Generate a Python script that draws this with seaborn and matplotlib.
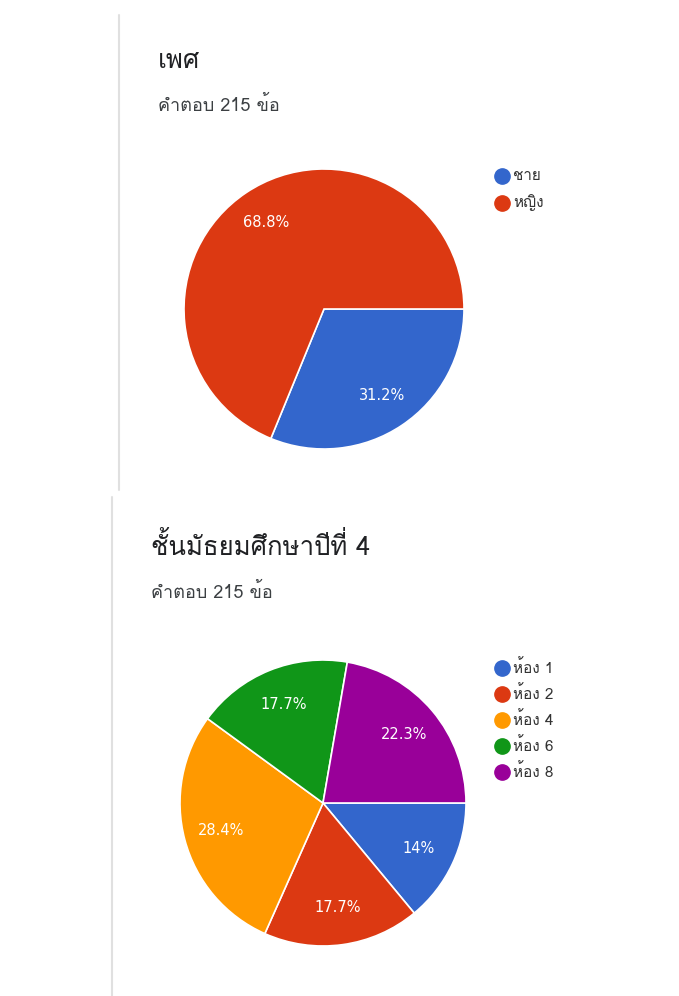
import matplotlib
matplotlib.use('Agg')
import matplotlib.pyplot as plt
from matplotlib import font_manager
from matplotlib.lines import Line2D
import seaborn as sns

# data
gender_labels = ['ชาย', 'หญิง']
gender_values = [31.2, 68.8]
room_labels = ['ห้อง 1', 'ห้อง 2', 'ห้อง 4', 'ห้อง 6', 'ห้อง 8']
room_values = [14.0, 17.7, 28.4, 17.7, 22.3]
palette = ['#3366cc', '#dc3912', '#ff9900', '#109618', '#990099']
title1 = 'เพศ'
title2 = 'ชั้นมัธยมศึกษาปีที่ 4'
subtitle = 'คำตอบ 215 ข้อ'


def find_thai_font():
    # look for any installed font that has Thai glyphs
    try:
        from fontTools.ttLib import TTFont
    except ImportError:
        return []
    found = []
    for f in font_manager.fontManager.ttflist:
        try:
            tt = TTFont(f.fname, fontNumber=0, lazy=True)
            cmap = tt.getBestCmap()
            if cmap and 0x0E1E in cmap and 0x0E0A in cmap:
                found.append(f.name)
        except Exception:
            continue
    return found


sns.set_theme(style='white')
fams = list(dict.fromkeys(find_thai_font())) + ['DejaVu Sans']
plt.rcParams['font.family'] = fams

W, H = 679, 996
fig = plt.figure(figsize=(W / 100, H / 100), dpi=100)
fig.patch.set_facecolor('white')


def px_axes(cx, cy, r):
    return fig.add_axes([(cx - r) / W, 1 - (cy + r) / H, 2 * r / W, 2 * r / H])


def draw_pie(ax, values, labels, colors):
    ax.pie(values, colors=colors, startangle=0, counterclock=False,
           autopct=lambda p: f'{p:.1f}%'.replace('.0%', '%'), pctdistance=0.74,
           wedgeprops=dict(edgecolor='white', linewidth=1.2),
           textprops=dict(color='white', fontsize=10.5, family='DejaVu Sans'))
    ax.set_xlim(-1.0, 1.0)
    ax.set_ylim(-1.0, 1.0)
    ax.axis('off')


ax1 = px_axes(324, 309, 140)
draw_pie(ax1, gender_values, gender_labels, palette[:2])

ax2 = px_axes(323, 803, 143)
draw_pie(ax2, room_values, room_labels, palette)


def legend(labels, colors, x, y, step):
    for i, (lab, col) in enumerate(zip(labels, colors)):
        yy = 1 - (y + i * step) / H
        fig.add_artist(Line2D([x / W], [yy], marker='o', markersize=11,
                              color=col, linestyle='none', transform=fig.transFigure))
        fig.text((x + 11) / W, yy, lab, fontsize=11, color='#333333',
                 va='center', ha='left')


legend(gender_labels, palette[:2], 502, 176, 27)
legend(room_labels, palette, 502, 668, 26)

# titles
fig.text(158 / W, 1 - 61 / H, title1, fontsize=18.5, color='#202124', va='center')
fig.text(158 / W, 1 - 105 / H, subtitle, fontsize=13, color='#3c4043', va='center')
fig.text(151 / W, 1 - 546 / H, title2, fontsize=18.5, color='#202124', va='center')
fig.text(151 / W, 1 - 592 / H, subtitle, fontsize=13, color='#3c4043', va='center')

# card borders
fig.add_artist(Line2D([119 / W, 119 / W], [1 - 15 / H, 1 - 490 / H], color='#e0e0e0',
                      linewidth=1.5, transform=fig.transFigure))
fig.add_artist(Line2D([112 / W, 112 / W], [1 - 497 / H, 0], color='#e0e0e0',
                      linewidth=1.5, transform=fig.transFigure))

fig.savefig('out.png', dpi=100, facecolor='white')
